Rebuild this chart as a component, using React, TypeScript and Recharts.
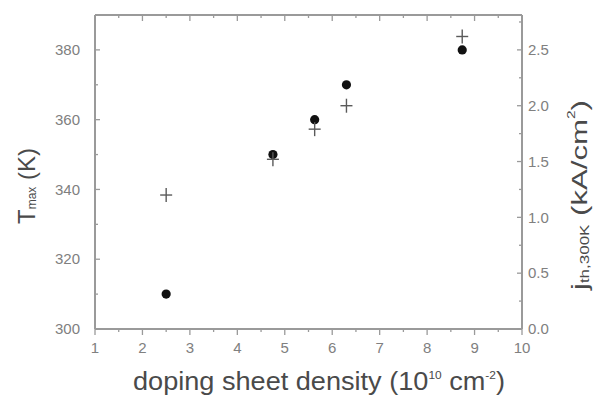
import { ScatterChart, Scatter, XAxis, YAxis, Label } from 'recharts';

// T_max vs doping density (filled circles, left axis)
const densityTmax = [2.5, 4.75, 5.63, 6.3, 8.74];
const tmax = [310, 350, 360, 370, 380];

// j_th,300K vs doping density (crosses, right axis)
const densityJth = [2.5, 4.75, 5.63, 6.3, 8.74];
const jth = [1.2, 1.52, 1.79, 2.0, 2.62];

const xTicks = [1, 1.5, 2, 2.5, 3, 3.5, 4, 4.5, 5, 5.5, 6, 6.5, 7, 7.5, 8, 8.5, 9, 9.5, 10];
const leftTicks = [300, 310, 320, 330, 340, 350, 360, 370, 380];
const rightTicks = [0, 0.25, 0.5, 0.75, 1, 1.25, 1.5, 1.75, 2, 2.25, 2.5, 2.75];

const AXIS = '#9a9a9a';
const TICK_TEXT = '#808080';
const TITLE = '#4a4a4a';
const FONT = '"Liberation Sans", Arial, sans-serif';

const circleData = densityTmax.map((x, i) => ({ x, y: tmax[i] }));
const crossData = densityJth.map((x, i) => ({ x, y: jth[i] }));

const BottomTick = (props: any) => {
  const { x, y, payload } = props;
  const major = Number.isInteger(payload.value);
  return (
    <g>
      <line x1={x} x2={x} y1={y} y2={y + (major ? 6 : 3)} stroke={AXIS} strokeWidth={1.3} />
      {major && (
        <text x={x} y={y + 24} textAnchor="middle" fill={TICK_TEXT} fontSize={15} fontFamily={FONT}>
          {payload.value}
        </text>
      )}
    </g>
  );
};

const TopTick = (props: any) => {
  const { x, y, payload } = props;
  const major = Number.isInteger(payload.value);
  return <line x1={x} x2={x} y1={y} y2={y + (major ? 6 : 3)} stroke={AXIS} strokeWidth={1.3} />;
};

const LeftTick = (props: any) => {
  const { x, y, payload } = props;
  const major = payload.value % 20 === 0;
  return (
    <g>
      <line x1={x} x2={x + (major ? 5 : 3)} y1={y} y2={y} stroke={AXIS} strokeWidth={1.3} />
      {major && (
        <text x={x - 15} y={y} dy="0.35em" textAnchor="end" fill={TICK_TEXT} fontSize={15} fontFamily={FONT}>
          {payload.value}
        </text>
      )}
    </g>
  );
};

const RightTick = (props: any) => {
  const { x, y, payload } = props;
  const major = Math.abs(payload.value * 2 - Math.round(payload.value * 2)) < 1e-6;
  return (
    <g>
      <line x1={x} x2={x - (major ? 5 : 3)} y1={y} y2={y} stroke={AXIS} strokeWidth={1.3} />
      {major && (
        <text x={x + 6} y={y} dy="0.35em" textAnchor="start" fill={TICK_TEXT} fontSize={15} fontFamily={FONT}>
          {payload.value.toFixed(1)}
        </text>
      )}
    </g>
  );
};

const CrossShape = (props: any) => {
  const { cx, cy } = props;
  return (
    <g>
      <line x1={cx - 6} x2={cx + 6} y1={cy} y2={cy} stroke="#5a5a5a" strokeWidth={1.4} />
      <line x1={cx} x2={cx} y1={cy - 7} y2={cy + 7} stroke="#5a5a5a" strokeWidth={1.4} />
    </g>
  );
};

const DotShape = (props: any) => {
  const { cx, cy } = props;
  return <circle cx={cx} cy={cy} r={4.6} fill="#111" />;
};

const XTitle = () => (
  <text
    x={319}
    y={390}
    textAnchor="middle"
    fill={TITLE}
    fontSize={25}
    fontFamily={FONT}
    textLength={372}
    lengthAdjust="spacingAndGlyphs"
  >
    doping sheet density (10
    <tspan fontSize={11} dy={-11}>10</tspan>
    <tspan dy={11}> cm</tspan>
    <tspan fontSize={11} dy={-11}>-2</tspan>
    <tspan dy={11}>)</tspan>
  </text>
);

const LeftTitle = () => (
  <text
    x={26}
    y={186}
    transform="rotate(-90 26 186)"
    textAnchor="middle"
    dominantBaseline="central"
    fill={TITLE}
    fontSize={24}
    fontFamily={FONT}
  >
    T
    <tspan fontSize={12} dy={6}>max</tspan>
    <tspan dy={-6}> (K)</tspan>
  </text>
);

const RightTitle = () => (
  <text
    x={579}
    y={195}
    transform="rotate(-90 579 195)"
    textAnchor="middle"
    dominantBaseline="central"
    fill={TITLE}
    fontSize={22}
    fontFamily={FONT}
    textLength={190}
    lengthAdjust="spacingAndGlyphs"
  >
    j
    <tspan fontSize={12} dy={6}>th,300K</tspan>
    <tspan dy={-6}> (kA/cm</tspan>
    <tspan fontSize={11} dy={-8}>2</tspan>
    <tspan dy={8}>)</tspan>
  </text>
);

export default function App() {
  return (
    <div style={{ position: 'absolute', left: 0, top: 0, width: 597, height: 398, background: '#fff' }}>
      <ScatterChart width={597} height={398} margin={{ top: 14, right: 0, bottom: 0, left: 0 }}>
        <XAxis
          xAxisId="b"
          type="number"
          dataKey="x"
          domain={[1, 10]}
          ticks={xTicks}
          interval={0}
          height={69}
          tickSize={0}
          tickMargin={0}
          tickLine={false}
          tick={BottomTick}
          axisLine={{ stroke: AXIS, strokeWidth: 2 }}
          allowDataOverflow
        >
          <Label content={XTitle} />
        </XAxis>
        <XAxis
          xAxisId="t"
          orientation="top"
          type="number"
          dataKey="x"
          domain={[1, 10]}
          ticks={xTicks}
          interval={0}
          height={1}
          tickSize={0}
          tickMargin={0}
          tickLine={false}
          tick={TopTick}
          axisLine={{ stroke: AXIS, strokeWidth: 2 }}
          allowDataOverflow
        />
        <YAxis
          yAxisId="left"
          type="number"
          dataKey="y"
          domain={[300, 390]}
          ticks={leftTicks}
          interval={0}
          width={95}
          tickSize={0}
          tickMargin={0}
          tickLine={false}
          tick={LeftTick}
          axisLine={{ stroke: AXIS, strokeWidth: 2 }}
          allowDataOverflow
        >
          <Label content={LeftTitle} />
        </YAxis>
        <YAxis
          yAxisId="right"
          orientation="right"
          type="number"
          dataKey="y"
          domain={[0, 2.8125]}
          ticks={rightTicks}
          interval={0}
          width={75}
          tickSize={0}
          tickMargin={0}
          tickLine={false}
          tick={RightTick}
          axisLine={{ stroke: AXIS, strokeWidth: 2 }}
          allowDataOverflow
        >
          <Label content={RightTitle} />
        </YAxis>
        <Scatter
          data={circleData}
          xAxisId="b"
          yAxisId="left"
          shape={DotShape}
          isAnimationActive={false}
        />
        <Scatter
          data={crossData}
          xAxisId="b"
          yAxisId="right"
          shape={CrossShape}
          isAnimationActive={false}
        />
      </ScatterChart>
    </div>
  );
}
